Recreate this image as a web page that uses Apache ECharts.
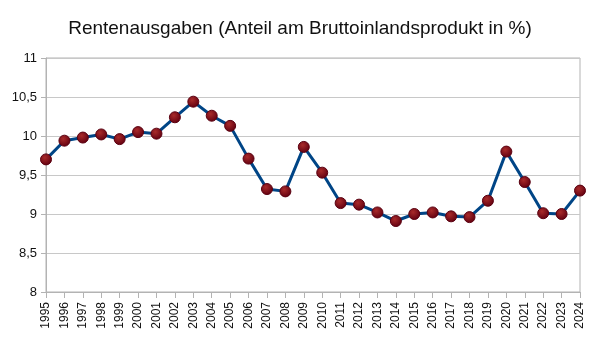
<!DOCTYPE html>
<html><head><meta charset="utf-8">
<script src="https://cdn.jsdelivr.net/npm/echarts@6/dist/echarts.min.js"></script>
<style>html,body{margin:0;padding:0;background:#fff}#c{width:600px;height:338px}</style>
</head><body><div id="c"></div>
<script>
const titleText = "Rentenausgaben (Anteil am Bruttoinlandsprodukt in %)";
const years = ["1995","1996","1997","1998","1999","2000","2001","2002","2003","2004","2005","2006","2007","2008","2009","2010","2011","2012","2013","2014","2015","2016","2017","2018","2019","2020","2021","2022","2023","2024"];
const values = [9.70,9.94,9.98,10.02,9.96,10.05,10.03,10.24,10.44,10.26,10.13,9.71,9.32,9.29,9.86,9.53,9.14,9.12,9.02,8.91,9.00,9.02,8.97,8.96,9.17,9.80,9.41,9.01,9.00,9.30];

const chart = echarts.init(document.getElementById('c'), null, {renderer:'canvas'});
chart.setOption({
  backgroundColor:'#ffffff',
  animation:false,
  title:{text:titleText,left:'center',top:14,textStyle:{fontFamily:'Liberation Sans',fontSize:19,fontWeight:'normal',color:'#111'}},
  grid:{left:46,right:20,top:58,bottom:46,show:true,borderColor:'#b3b3b3',borderWidth:1,backgroundColor:'transparent'},
  xAxis:{type:'category',data:years,boundaryGap:false,
    axisLine:{lineStyle:{color:'#b3b3b3'}},
    axisTick:{show:true,alignWithLabel:true,length:6,lineStyle:{color:'#b3b3b3'}},
    axisLabel:{rotate:90,interval:0,fontFamily:'Liberation Sans',fontSize:12,color:'#111',margin:10},
    splitLine:{show:false}},
  yAxis:{type:'value',min:8,max:11,interval:0.5,
    axisLine:{show:true,lineStyle:{color:'#b3b3b3'}},
    axisTick:{show:true,length:5,lineStyle:{color:'#b3b3b3'}},
    axisLabel:{fontFamily:'Liberation Sans',fontSize:13,color:'#111',margin:9,formatter:v=>String(v).replace('.',',')},
    splitLine:{lineStyle:{color:'#c8c8c8'}}},
  series:[{type:'line',data:values,symbol:'circle',symbolSize:11,
    lineStyle:{color:'#004586',width:3},
    itemStyle:{color:new echarts.graphic.RadialGradient(0.4,0.35,0.65,[{offset:0,color:'#a82a2a'},{offset:1,color:'#620010'}]),borderColor:'#5a0010',borderWidth:1}}]
});
</script></body></html>
